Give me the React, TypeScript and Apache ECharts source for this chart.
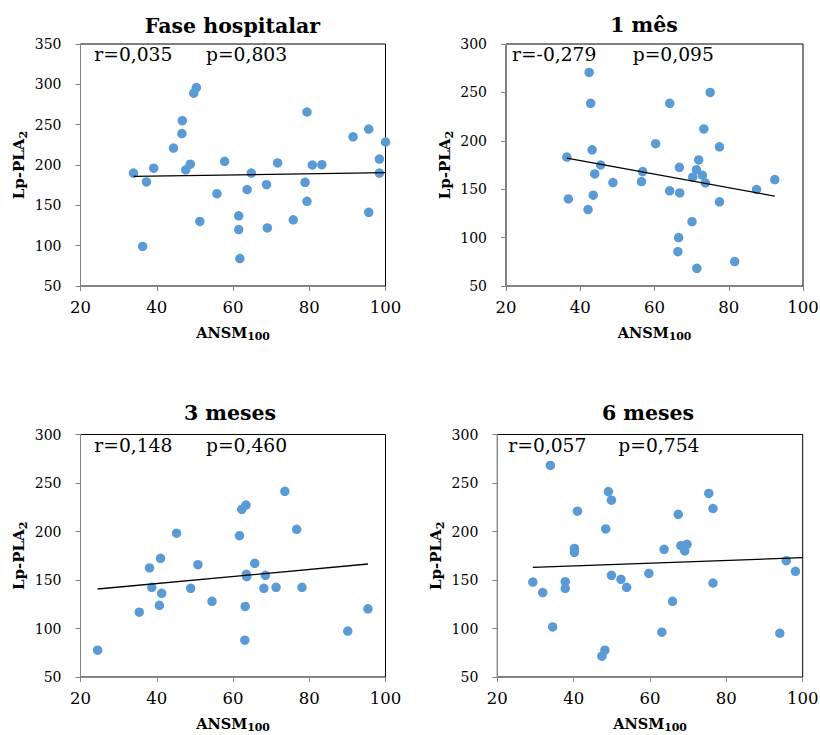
import React, { useEffect, useRef } from "react";
import * as echarts from "echarts";

// ---------- Data ----------
const titles = ["Fase hospitalar", "1 mês", "3 meses", "6 meses"];
const rTexts = ["r=0,035", "r=-0,279", "r=0,148", "r=0,057"];
const pTexts = ["p=0,803", "p=0,095", "p=0,460", "p=0,754"];
const xTicks = [20, 40, 60, 80, 100];
const yMaxes = [350, 300, 300, 300];

const hospX = [33.9, 36.3, 37.3, 39.2, 44.4, 46.7, 46.6, 47.6, 48.8, 49.7, 50.4, 51.3, 55.8, 57.8, 61.5, 61.5, 61.8, 63.7, 64.8, 68.8, 69.0, 71.7, 75.8, 78.9, 79.4, 79.4, 80.8, 83.3, 91.5, 95.6, 95.6, 98.4, 98.4, 100];
const hospY = [190, 99, 179, 196, 221, 255, 239, 194, 201, 289, 296, 130, 164.5, 204.5, 137, 120, 84, 169.5, 190, 175.6, 122, 202.5, 132, 178.5, 265.7, 155, 200, 200.4, 235, 244.6, 141.3, 207.4, 190, 228.5];

const m1X = [36.4, 36.8, 42.1, 42.4, 42.8, 43.2, 43.9, 43.5, 45.5, 48.8, 56.5, 56.8, 60.3, 64.1, 64.1, 66.7, 66.8, 66.5, 66.3, 70.1, 70.3, 71.3, 71.9, 71.4, 72.9, 73.3, 73.7, 75.0, 77.5, 77.5, 81.6, 87.5, 92.4];
const m1Y = [183.2, 140, 129, 270.6, 238.7, 190.7, 165.8, 143.8, 175, 156.9, 157.9, 168.2, 197, 238.7, 148.3, 172.6, 146.2, 100, 85.5, 116.4, 162.4, 170.2, 180.2, 68.3, 164.4, 212.3, 156.5, 250, 193.8, 137, 75.2, 149.7, 160];

const m3X = [24.5, 35.4, 38.1, 38.7, 40.7, 41.0, 41.3, 45.2, 48.9, 50.8, 54.5, 61.7, 62.3, 63.4, 63.5, 63.6, 63.2, 63.1, 65.7, 68.1, 68.5, 71.3, 73.6, 76.7, 78.1, 90.1, 95.4];
const m3Y = [77.7, 116.8, 162.4, 142.4, 123.9, 172.3, 136.3, 198.3, 141.4, 165.8, 128, 195.7, 222.8, 227.3, 155.8, 153.4, 122.7, 88, 167.2, 141.4, 154.8, 142.4, 241.4, 202.2, 142.4, 97.3, 120.3];

const m6X = [29.3, 31.9, 33.9, 34.5, 37.8, 37.8, 40.2, 40.2, 41.0, 47.4, 48.2, 48.4, 49.1, 49.9, 49.9, 52.4, 53.9, 59.7, 63.1, 63.7, 65.9, 67.4, 68.1, 69.1, 69.7, 75.4, 76.5, 76.5, 94.0, 95.7, 98.1];
const m6Y = [147.9, 137, 268.1, 101.6, 148.3, 141.4, 182.6, 178.5, 221, 71.5, 77.7, 202.7, 241.2, 232.3, 154.8, 150.7, 142.4, 156.9, 96.2, 181.6, 128, 217.7, 185.4, 179.9, 186.8, 239.2, 223.7, 146.9, 95.1, 169.9, 158.9];

// trend line end points
const trendX = [[33.9, 100], [36.4, 92.4], [24.5, 95.4], [29.3, 100]];
const trendY = [[186, 190.5], [182.2, 142.8], [140.7, 166.5], [163, 173]];

const panelsX = [hospX, m1X, m3X, m6X];
const panelsY = [hospY, m1Y, m3Y, m6Y];

// ---------- Layout ----------
const FONT = "DejaVu Serif";
const grids = [
  { left: 80.5, top: 44, width: 305, height: 242 },
  { left: 506, top: 44, width: 297, height: 242 },
  { left: 80.5, top: 434.5, width: 305, height: 242.5 },
  { left: 497.3, top: 434.5, width: 305.4, height: 242.5 },
];
const titlePos = [
  [232.5, 26],
  [644, 25],
  [230, 413],
  [648, 413],
];
const rPos = [
  [94.3, 54],
  [512, 54],
  [94.3, 445],
  [508.3, 445],
];
const pPos = [
  [206, 54],
  [632.7, 54],
  [206, 445],
  [618.3, 445],
];

const GREY = "#868686";

export default function App() {
  const ref = useRef<HTMLDivElement>(null);
  useEffect(() => {
    if (!ref.current) return;
    const chart = echarts.init(ref.current, undefined, { renderer: "svg" });

    const nameRich = (size: number) => ({
      a: { fontFamily: FONT, fontWeight: "bold", fontSize: size, color: "#000", lineHeight: size + 2, verticalAlign: "top" },
      b: { fontFamily: FONT, fontWeight: "bold", fontSize: size * 0.75, color: "#000", lineHeight: size * 0.8, padding: [size * 0.55, 0, 0, 0], verticalAlign: "bottom" },
    });

    const xAxis: any[] = [];
    const yAxis: any[] = [];
    const series: any[] = [];
    const graphic: any[] = [];

    for (let i = 0; i < 4; i++) {
      xAxis.push({
        type: "value",
        gridIndex: i,
        min: xTicks[0],
        max: xTicks[xTicks.length - 1],
        interval: 20,
        name: `{a|ANSM}{b|100}`,
        nameLocation: "middle",
        nameGap: 39,
        nameTextStyle: { rich: nameRich(14.5) },
        axisLine: { show: true, onZero: false, lineStyle: { color: GREY, width: 1 } },
        axisTick: { show: true, inside: false, length: 5, lineStyle: { color: GREY } },
        axisLabel: { fontFamily: FONT, fontSize: 16.5, color: "#000", margin: 13 },
        splitLine: { show: false },
      });
      yAxis.push({
        type: "value",
        gridIndex: i,
        min: 50,
        max: yMaxes[i],
        interval: 50,
        name: `{a|Lp-PLA}{b|2}`,
        nameLocation: "middle",
        nameRotate: 90,
        nameGap: 52,
        nameTextStyle: { rich: nameRich(15) },
        axisLine: { show: true, onZero: false, lineStyle: { color: GREY, width: 1 } },
        axisTick: { show: true, inside: false, length: 5, lineStyle: { color: GREY } },
        axisLabel: { fontFamily: FONT, fontSize: 14, color: "#000", margin: 19 },
        splitLine: { show: false },
      });
      series.push({
        type: "scatter",
        xAxisIndex: i,
        yAxisIndex: i,
        symbolSize: 9.5,
        itemStyle: { color: "#5b9bd5", opacity: 1 },
        data: panelsX[i].map((x, k) => [x, panelsY[i][k]]),
        z: 2,
      });
      series.push({
        type: "line",
        xAxisIndex: i,
        yAxisIndex: i,
        symbol: "none",
        lineStyle: { color: "#000", width: 1.3 },
        data: trendX[i].map((x, k) => [x, trendY[i][k]]),
        z: 3,
      });
      graphic.push({
        type: "text",
        x: titlePos[i][0],
        y: titlePos[i][1],
        style: { text: titles[i], fontFamily: FONT, fontWeight: "bold", fontSize: 20.5, fill: "#000", textAlign: "center", textVerticalAlign: "middle" },
      });
      graphic.push({
        type: "text",
        x: rPos[i][0],
        y: rPos[i][1],
        style: { text: rTexts[i], fontFamily: FONT, fontSize: 18.7, fill: "#000", textAlign: "left", textVerticalAlign: "middle" },
      });
      graphic.push({
        type: "text",
        x: pPos[i][0],
        y: pPos[i][1],
        style: { text: pTexts[i], fontFamily: FONT, fontSize: 18.7, fill: "#000", textAlign: "left", textVerticalAlign: "middle" },
      });
    }

    chart.setOption({
      animation: false,
      backgroundColor: "#fff",
      grid: grids.map((g) => ({
        ...g,
        containLabel: false,
        outerBoundsMode: "none",
        show: true,
        borderColor: "#000",
        borderWidth: 1,
        backgroundColor: "transparent",
      })),
      xAxis,
      yAxis,
      series,
      graphic,
    } as any);

    return () => chart.dispose();
  }, []);

  return <div ref={ref} style={{ position: "absolute", left: 0, top: 0, width: 820, height: 735 }} />;
}
